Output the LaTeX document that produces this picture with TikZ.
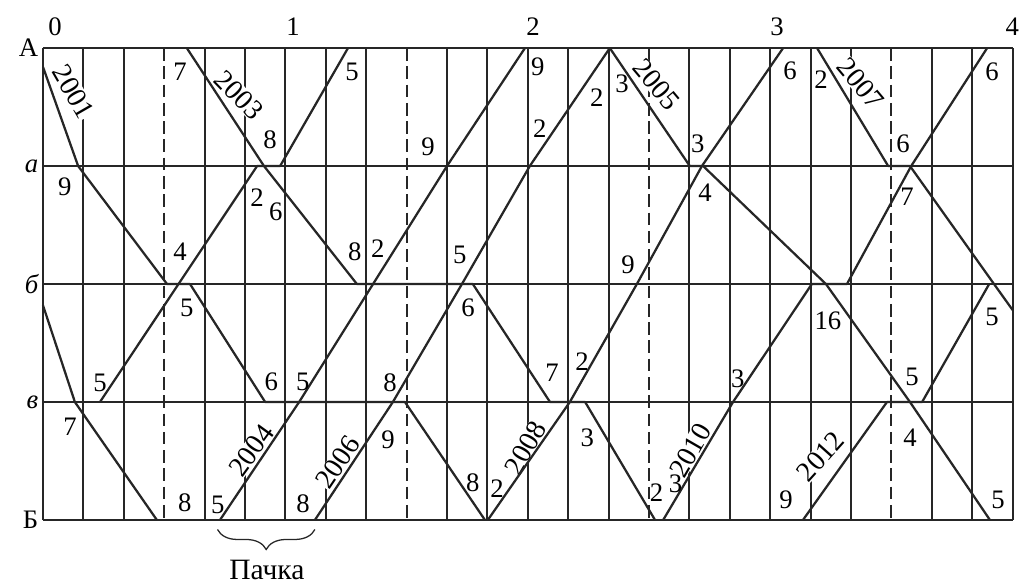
\documentclass[tikz,border=0pt]{standalone}
\usepackage{fontspec}
\setmainfont{Liberation Serif}
\usepackage{tikz}
\usetikzlibrary{decorations.pathreplacing}
\usepackage{xcolor}
\definecolor{ink}{RGB}{38,38,38}

\begin{document}
\begin{tikzpicture}[x=1.01mm,y=-29.5mm,
  gridline/.style={ink,line width=1.5pt},
  halfhour/.style={ink,line width=1.5pt,dash pattern=on 9pt off 4pt},
  train/.style={ink,line width=1.6pt,line join=round},
  num/.style={inner sep=0pt,font=\fontsize{19}{19}\selectfont},
  trainno/.style={fill=white,inner sep=0.3pt,font=\fontsize{20}{20}\selectfont}]
\useasboundingbox (-10.64,-0.407) rectangle (242.08,4.568);
\foreach \t in {0,10,20,40,50,60,70,80,100,110,120,130,140,160,170,180,190,200,220,230,240}
  \draw[gridline] (\t,0) -- (\t,4);
\foreach \t in {30,90,150,210}
  \draw[halfhour] (\t,0) -- (\t,4);
\foreach \s in {0,...,4}
  \draw[gridline] (0,\s) -- (240,\s);
\node[trainno,rotate=-60] at (7.6,0.37) {2001};
\node[trainno,rotate=-46] at (48.5,0.40) {2003};
\node[trainno,rotate=-50] at (151.8,0.31) {2005};
\node[trainno,rotate=-50] at (202.3,0.30) {2007};
\node[trainno,rotate=54] at (51.6,3.41) {2004};
\node[trainno,rotate=56] at (73,3.51) {2006};
\node[trainno,rotate=60] at (119.4,3.39) {2008};
\node[trainno,rotate=60] at (160.2,3.41) {2010};
\node[trainno,rotate=48] at (192.5,3.46) {2012};
\draw[train] (0,2.18) -- (7.9,3) -- (28.2,4);
\draw[train] (14.1,3) -- (53,1) -- (58.7,1) -- (75.5,0);
\draw[train] (0,0.16) -- (8.7,1) -- (30.7,2) -- (36.4,2) -- (55,3) -- (89.6,3) -- (109.4,4);
\draw[train] (35.6,0) -- (54.7,1) -- (77.7,2) -- (106.4,2) -- (125.5,3) -- (134.2,3) -- (151.5,4);
\draw[train] (43.8,4) -- (63.4,3) -- (81.7,2) -- (100,1) -- (119.3,0);
\draw[train] (67.3,4) -- (86.6,3) -- (103.7,2) -- (120.5,1) -- (140.3,0);
\draw[train] (140.3,0) -- (160.1,1) -- (163.4,1) -- (193.8,2) -- (214.6,3) -- (234.4,4);
\draw[train] (191.6,0) -- (209.2,1) -- (214.6,1) -- (235.4,2) -- (240,2.22);
\draw[train] (110.1,4) -- (130.4,3) -- (147,2) -- (163.1,1) -- (183.2,0);
\draw[train] (153.5,4) -- (170.8,3) -- (190.3,2) -- (199,2) -- (214.9,1) -- (233.7,0);
\draw[train] (188.1,4) -- (208.9,3) -- (217.6,3) -- (234.2,2);
\node[num] at (2.97,-0.18) {0};
\node[num] at (61.9,-0.18) {1};
\node[num] at (121.3,-0.18) {2};
\node[num] at (181.7,-0.18) {3};
\node[num] at (239.9,-0.18) {4};
\node[num,anchor=east] at (-1.1,0) {А};
\node[num,anchor=east] at (-1.1,1) {\itshape а};
\node[num,anchor=east] at (-1.1,2) {\itshape б};
\node[num,anchor=east] at (-1.1,3) {\itshape в};
\node[num,anchor=east] at (-1.1,4) {Б};
\node[num] at (33.9,0.2) {7};
\node[num] at (76.5,0.2) {5};
\node[num] at (122.5,0.16) {9};
\node[num] at (143.3,0.3) {3};
\node[num] at (137.1,0.42) {2};
\node[num] at (184.9,0.19) {6};
\node[num] at (192.6,0.27) {2};
\node[num] at (234.9,0.2) {6};
\node[num] at (5.4,1.18) {9};
\node[num] at (56.2,0.78) {8};
\node[num] at (53,1.27) {2};
\node[num] at (57.6,1.39) {6};
\node[num] at (95.3,0.84) {9};
\node[num] at (123,0.68) {2};
\node[num] at (162.1,0.81) {3};
\node[num] at (163.9,1.23) {4};
\node[num] at (212.9,0.81) {6};
\node[num] at (213.9,1.26) {7};
\node[num] at (33.9,1.73) {4};
\node[num] at (35.6,2.2) {5};
\node[num] at (77.2,1.73) {8};
\node[num] at (82.9,1.7) {2};
\node[num] at (103.2,1.75) {5};
\node[num] at (105.2,2.2) {6};
\node[num] at (144.8,1.84) {9};
\node[num] at (194.3,2.31) {16};
\node[num] at (234.9,2.28) {5};
\node[num] at (14.1,2.84) {5};
\node[num] at (6.7,3.21) {7};
\node[num] at (56.5,2.83) {6};
\node[num] at (64.3,2.83) {5};
\node[num] at (85.9,2.84) {8};
\node[num] at (85.4,3.32) {9};
\node[num] at (126,2.75) {7};
\node[num] at (133.4,2.66) {2};
\node[num] at (134.7,3.3) {3};
\node[num] at (172,2.8) {3};
\node[num] at (215.1,2.79) {5};
\node[num] at (214.6,3.3) {4};
\node[num] at (35.1,3.85) {8};
\node[num] at (43.3,3.87) {5};
\node[num] at (64.4,3.86) {8};
\node[num] at (106.4,3.68) {8};
\node[num] at (112.4,3.73) {2};
\node[num] at (151.9,3.77) {2};
\node[num] at (156.6,3.69) {3};
\node[num] at (183.9,3.83) {9};
\node[num] at (236.4,3.83) {5};
\coordinate (packL) at (43.2,4.08);
\coordinate (packR) at (67.3,4.08);
\draw[ink,line width=0.9pt,decorate,decoration={brace,mirror,amplitude=0.5cm}] (packL) -- (packR);
\node[num,font=\fontsize{21}{21}\selectfont] (pack) at (55.4,4.42) {Пачка};
\end{tikzpicture}
\end{document}
